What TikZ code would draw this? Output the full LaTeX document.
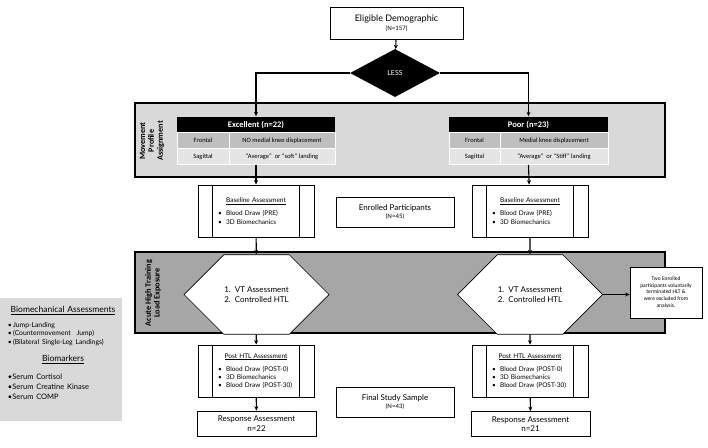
\documentclass[tikz,border=0pt]{standalone}
\usepackage{fontspec}
\setmainfont{Lato}
\newfontfamily\calib{Carlito}
\usetikzlibrary{shapes.geometric,shapes.misc,arrows.meta}

\begin{document}
\begin{tikzpicture}[x=1pt, y=-1pt, every node/.style={font=\fontsize{7}{8.5}\selectfont},
  box/.style={draw, line width=0.7pt, fill=white, align=center, inner sep=1pt},
  band/.style={draw, line width=1.4pt},
  bandlbl/.style={rotate=90, align=center, font=\calib\bfseries\fontsize{8.2}{8.8}\selectfont},
  thead/.style={fill=black, text=white, minimum height=16pt, inner sep=0pt, font=\calib\bfseries\fontsize{8.5}{10}\selectfont},
  cella/.style={fill=gray!50, draw=white, line width=0.8pt, minimum height=16pt, inner sep=0pt, font=\calib\fontsize{6.5}{8}\selectfont},
  cellb/.style={cella, fill=gray!20},
  assess/.style={box, minimum width=116pt, minimum height=52pt, text width=76pt, align=left, font=\fontsize{6.5}{8.2}\selectfont},
  hexbox/.style={chamfered rectangle, chamfered rectangle xsep=27pt, chamfered rectangle ysep=28.5pt, draw, line width=0.7pt, fill=white, minimum width=145pt, minimum height=57pt, align=left, font=\fontsize{8}{10}\selectfont},
  resp/.style={box, minimum width=119pt, minimum height=25pt, font=\fontsize{8}{9.5}\selectfont},
  arr/.style={-{Stealth[length=4.5pt, width=4pt]}, line width=1.1pt}]
\useasboundingbox (0,0) rectangle (708,447);
\draw[band, fill=gray!30] (135,103) rectangle (665,177);
\draw[band, fill=gray!70] (135,252) rectangle (665,333);
\fill[gray!30] (0,298) rectangle (122,421);
\node[bandlbl] (mpa) at (152,141) {Movement\\Profile\\Assignment};
\node[bandlbl] (ahtl) at (153,293) {Acute High Training\\Load Exposure};
\node[box, minimum width=133pt, minimum height=32pt] (elig) at (396.5,23) {{\fontsize{9}{10}\selectfont Eligible Demographic}\\{\fontsize{6}{7}\selectfont (N=157)}};
\node[diamond, fill=black, text=white, aspect=2, minimum width=90pt, minimum height=48pt, inner sep=0pt] (less) at (395,73) {LESS};
\node[thead, minimum width=158pt] (exc) at (256,124.5) {Excellent (n=22)};
\node[cella, minimum width=52pt] (excF) at (203,140.5) {Frontal};
\node[cella, minimum width=106pt] (excFv) at (282,140.5) {NO medial knee displacement};
\node[cellb, minimum width=52pt] (excS) at (203,156.5) {Sagittal};
\node[cellb, minimum width=106pt] (excSv) at (282,156.5) {“Average”\ \ or “soft” landing};
\node[thead, minimum width=159pt] (poor) at (528.5,124.5) {Poor (n=23)};
\node[cella, minimum width=51pt] (poorF) at (474.5,140.5) {Frontal};
\node[cella, minimum width=108pt] (poorFv) at (554,140.5) {Medial knee displacement};
\node[cellb, minimum width=51pt] (poorS) at (474.5,156.5) {Sagittal};
\node[cellb, minimum width=108pt] (poorSv) at (554,156.5) {“Average”\ \ or “Stiff” landing};
\node[assess] (baseL) at (256,211) {\centering\underline{Baseline Assessment}\par\vspace{5pt}\raggedright •\ \ Blood Draw (PRE)\\•\ \ 3D Biomechanics};
\node[assess] (baseR) at (530,211) {\centering\underline{Baseline Assessment}\par\vspace{5pt}\raggedright •\ \ Blood Draw (PRE)\\•\ \ 3D Biomechanics};
\node[box, minimum width=118pt, minimum height=30pt] (enrol) at (395,212) {{\fontsize{8}{9}\selectfont Enrolled Participants}\\{\fontsize{6}{7}\selectfont (N=45)}};
\node[hexbox] (vtL) at (256.5,294.5) {1.\ \ VT Assessment\\2.\ \ Controlled HTL};
\node[hexbox] (vtR) at (530,294.5) {1.\ \ VT Assessment\\2.\ \ Controlled HTL};
\node[box, minimum width=72pt, minimum height=51pt, font=\calib\fontsize{5.5}{6.8}\selectfont] (drop) at (666,292.5) {Two Enrolled\\participants voluntarily\\terminated HLT \&\\were excluded from\\analysis.};
\node[assess] (postL) at (256,371) {\centering\underline{Post HTL Assessment}\par\vspace{5pt}\raggedright •\ \ Blood Draw (POST-0)\\•\ \ 3D Biomechanics\\•\ \ Blood Draw (POST-30)};
\node[assess] (postR) at (530,371) {\centering\underline{Post HTL Assessment}\par\vspace{5pt}\raggedright •\ \ Blood Draw (POST-0)\\•\ \ 3D Biomechanics\\•\ \ Blood Draw (POST-30)};
\node[box, minimum width=118pt, minimum height=30pt] (final) at (395,402) {{\fontsize{8}{9}\selectfont Final Study Sample}\\{\fontsize{6}{7}\selectfont (N=43)}};
\node[resp] (respL) at (256.5,423.5) {Response Assessment\\n=22};
\node[resp] (respR) at (530.5,424) {Response Assessment\\n=21};
\node[anchor=north, text width=110pt, align=center, font=\fontsize{8.5}{10}\selectfont] (bio) at (63,303) {\underline{Biomechanical Assessments}\par\vspace{6pt}{\raggedright\fontsize{6.8}{8.6}\selectfont •\,Jump-Landing\\•\,(Countermovement\ \ Jump)\\•\,(Bilateral Single-Leg Landings)\par}\vspace{7pt}\underline{Biomarkers}\par\vspace{8pt}{\raggedright\fontsize{7.5}{10}\selectfont •Serum Cortisol\\•Serum Creatine Kinase\\•Serum COMP\par}};
\foreach \b in {baseL,baseR,postL,postR}
  \draw[line width=0.7pt] ([xshift=15pt]\b.north west) -- ([xshift=15pt]\b.south west) ([xshift=-15pt]\b.north east) -- ([xshift=-15pt]\b.south east);
\draw[arr] (elig) -- (less);
\draw[arr] (less.west) -| (exc.north);
\draw[arr] (less.east) -| (poor.north);
\draw[arr] (exc |- excSv.south) -- (baseL);
\draw[arr] (poor |- poorSv.south) -- (baseR);
\draw[arr] (baseL) -- (vtL);
\draw[arr] (baseR) -- (vtR);
\draw[arr] (vtL) -- (postL);
\draw[arr] (vtR) -- (postR);
\draw[arr] (vtR.east) -- (vtR.east -| drop.west);
\draw[arr] (postL) -- (respL);
\draw[arr] (postR) -- (respR);
\end{tikzpicture}
\end{document}
